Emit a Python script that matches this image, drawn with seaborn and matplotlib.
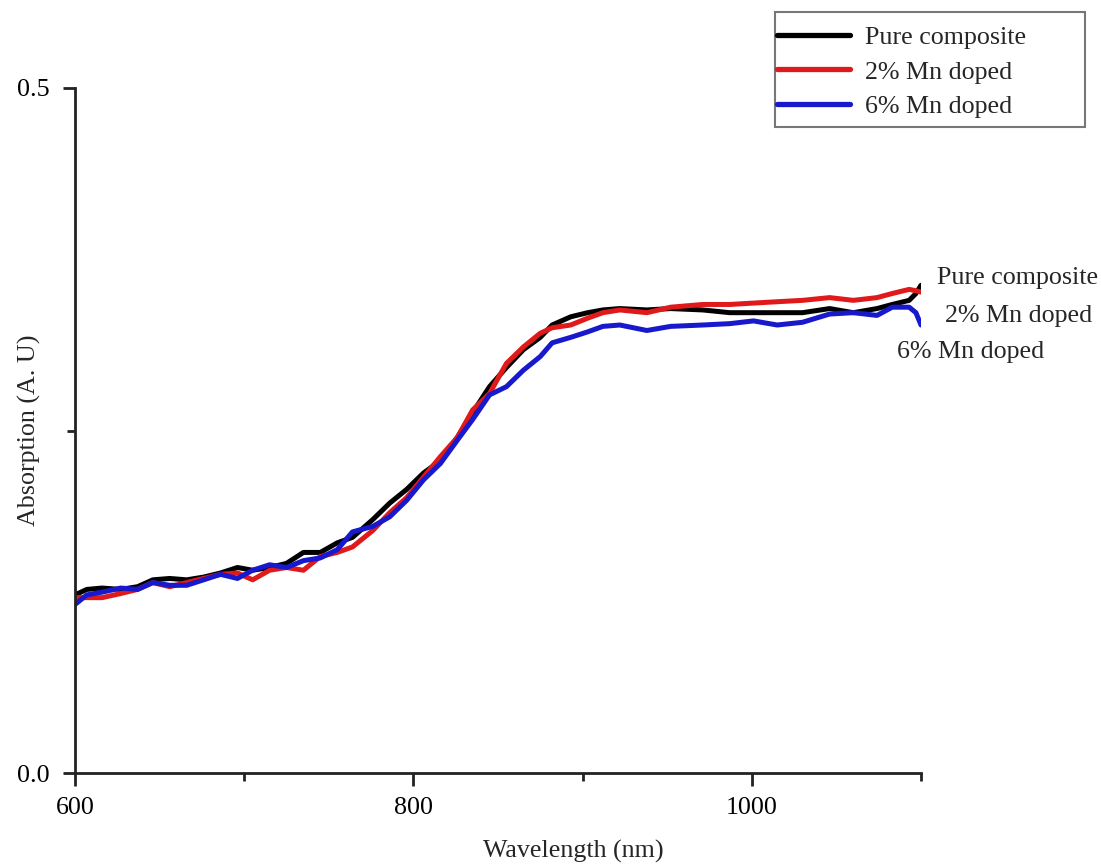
import matplotlib
matplotlib.use("Agg")
import matplotlib.pyplot as plt
import pandas as pd
import seaborn as sns
from matplotlib.patches import Rectangle
from matplotlib.ticker import FixedLocator, NullFormatter

# Absorption spectra (A. U) against wavelength (nm)
wavelength = [600, 607, 616, 627, 637, 646, 656, 666, 676, 686, 696, 705, 715, 725,
              735, 745, 755, 764, 776, 786, 796, 806, 816, 826, 835, 845, 855, 865,
              875, 882, 893, 903, 912, 922, 938, 952, 971, 987, 1001, 1015, 1030,
              1046, 1060, 1074, 1083, 1093, 1097, 1100]

pure_composite = [0.130, 0.134, 0.135, 0.134, 0.136, 0.141, 0.142, 0.141, 0.143, 0.146,
                  0.150, 0.148, 0.150, 0.153, 0.161, 0.161, 0.168, 0.172, 0.185, 0.197,
                  0.207, 0.219, 0.228, 0.245, 0.263, 0.282, 0.296, 0.309, 0.318, 0.327,
                  0.333, 0.336, 0.338, 0.339, 0.338, 0.339, 0.338, 0.336, 0.336, 0.336,
                  0.336, 0.339, 0.336, 0.339, 0.342, 0.345, 0.350, 0.356]

mn_doped_2 = [0.128, 0.128, 0.128, 0.131, 0.134, 0.139, 0.136, 0.139, 0.142, 0.145,
              0.146, 0.141, 0.148, 0.150, 0.148, 0.158, 0.161, 0.165, 0.177, 0.190,
              0.201, 0.216, 0.231, 0.245, 0.265, 0.277, 0.299, 0.311, 0.321, 0.325,
              0.327, 0.332, 0.336, 0.338, 0.336, 0.340, 0.342, 0.342, 0.343, 0.344,
              0.345, 0.347, 0.345, 0.347, 0.350, 0.353, 0.352, 0.351]

mn_doped_6 = [0.123, 0.130, 0.132, 0.135, 0.134, 0.139, 0.137, 0.137, 0.141, 0.145,
              0.142, 0.148, 0.152, 0.150, 0.155, 0.157, 0.163, 0.176, 0.180, 0.187,
              0.199, 0.214, 0.226, 0.243, 0.258, 0.276, 0.282, 0.294, 0.304, 0.314,
              0.318, 0.322, 0.326, 0.327, 0.323, 0.326, 0.327, 0.328, 0.330, 0.327,
              0.329, 0.335, 0.336, 0.334, 0.340, 0.340, 0.336, 0.327]

sample_names = ["Pure composite", "2% Mn doped", "6% Mn doped"]
line_colors = ["#000000", "#e01a1a", "#1818cc"]

x_major_ticks = [600, 800, 1000]
x_minor_ticks = [700, 900, 1100]
y_major_ticks = [0.0, 0.5]
y_minor_ticks = [0.25]

sns.set_theme(style="ticks")
plt.rcParams["font.family"] = ["Liberation Serif", "DejaVu Serif"]
FS = 18.7

frames = []
for name, values in zip(sample_names, [pure_composite, mn_doped_2, mn_doped_6]):
    frames.append(pd.DataFrame({"Wavelength": wavelength, "Absorption": values, "Sample": name}))
df = pd.concat(frames, ignore_index=True)

W, H = 1101, 866
fig = plt.figure(figsize=(W / 100, H / 100), dpi=100)
ax = fig.add_axes([75 / W, 1 - 773 / H, 846 / W, 685 / H])

sns.lineplot(data=df, x="Wavelength", y="Absorption", hue="Sample",
             hue_order=sample_names, palette=line_colors, linewidth=3.6,
             ax=ax, legend=False, sort=False)

ax.set_xlim(600, 1100)
ax.set_ylim(0, 0.5)

ax.xaxis.set_major_locator(FixedLocator(x_major_ticks))
ax.xaxis.set_minor_locator(FixedLocator(x_minor_ticks))
ax.yaxis.set_major_locator(FixedLocator(y_major_ticks))
ax.yaxis.set_minor_locator(FixedLocator(y_minor_ticks))
ax.xaxis.set_minor_formatter(NullFormatter())
ax.yaxis.set_minor_formatter(NullFormatter())
ax.set_xticklabels([str(v) for v in x_major_ticks])
ax.set_yticklabels([f"{v:.1f}" for v in y_major_ticks])

for side in ["top", "right"]:
    ax.spines[side].set_visible(False)
for side in ["left", "bottom"]:
    ax.spines[side].set_linewidth(2.0)
    ax.spines[side].set_color("#222222")

ax.tick_params(axis="both", which="major", direction="out", length=9, width=2,
               color="#222222", labelsize=FS, labelcolor="black")
ax.tick_params(axis="both", which="minor", direction="out", length=5.5, width=2,
               color="#222222")
ax.tick_params(axis="x", which="major", pad=8)
ax.tick_params(axis="y", which="major", pad=9)

ax.set_xlabel("Wavelength (nm)", fontsize=FS)
ax.set_ylabel("Absorption (A. U)", fontsize=FS)
ax.xaxis.set_label_coords(0.589, -0.098)
ax.yaxis.set_label_coords(-0.040, 0.5)

# curve labels at the right end of the spectra
ax.text(1109.5, 0.361, "Pure composite", fontsize=FS, ha="left", va="center", clip_on=False)
ax.text(1114.2, 0.3336, "2% Mn doped", fontsize=FS, ha="left", va="center", clip_on=False)
ax.text(1085.8, 0.3073, "6% Mn doped", fontsize=FS, ha="left", va="center", clip_on=False)

# legend entries, with a separate frame box around them
handles = ax.get_lines()[:3]
leg = fig.legend(handles, sample_names, loc="upper left",
                 bbox_to_anchor=(777 / W, 1 - 26 / H),
                 fontsize=FS, frameon=False, handlelength=2.8, handletextpad=0.58,
                 labelspacing=0.43, borderpad=0, borderaxespad=0)
for line in leg.get_lines():
    line.set_linewidth(3.8)
fig.patches.append(Rectangle((775 / W, 1 - 127 / H), 310 / W, 115 / H,
                             transform=fig.transFigure, fill=False,
                             edgecolor="#777777", linewidth=1.5))

fig.savefig("out.png", dpi=100)
